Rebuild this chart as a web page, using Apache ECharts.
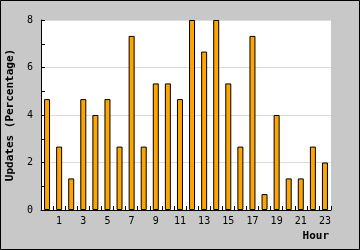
<!DOCTYPE html>
<html><head><meta charset="utf-8">
<script src="https://cdn.jsdelivr.net/npm/echarts@6/dist/echarts.min.js"></script>
<style>html,body{margin:0;padding:0;background:#c8c8c8}#c{width:360px;height:250px}</style>
</head><body><div id="c"></div>
<script>
const hours = ['0','1','2','3','4','5','6','7','8','9','10','11','12','13','14','15','16','17','18','19','20','21','22','23'];
const updates = [4.67,2.67,1.33,4.67,4.0,4.67,2.67,7.33,2.67,5.33,5.33,4.67,8.0,6.67,8.0,5.33,2.67,7.33,0.67,4.0,1.33,1.33,2.67,2.0];
const yTitle = 'Updates (Percentage)';
const xTitle = 'Hour';
const font = 'DejaVu Sans Mono';
const chart = echarts.init(document.getElementById('c'), null, {renderer:'canvas'});
chart.setOption({
  animation:false,
  backgroundColor:'#c8c8c8',
  grid:{left:41,right:29,top:20,bottom:40,show:true,backgroundColor:'#ffffff',borderWidth:0,containLabel:false,outerBoundsMode:'none'},
  graphic:[{type:'rect',z:100,silent:true,shape:{x:0.5,y:0.5,width:359,height:249},style:{fill:null,stroke:'#000',lineWidth:1}}],
  xAxis:{
    type:'category',data:hours,boundaryGap:true,
    axisLine:{lineStyle:{color:'#000',width:1}},
    axisTick:{show:true,inside:true,length:4,interval:0,lineStyle:{color:'#000'}},
    axisLabel:{interval:(i)=>i%2===1,margin:6,color:'#000',fontFamily:font,fontSize:10},
    splitLine:{show:false},
    name:xTitle,nameLocation:'end',nameGap:-2,
    nameTextStyle:{fontFamily:font,fontSize:11,fontWeight:'bold',color:'#000',align:'right',verticalAlign:'top',padding:[21,0,0,0]}
  },
  yAxis:{
    type:'value',min:0,max:8,interval:2,
    axisLine:{show:true,lineStyle:{color:'#000',width:1}},
    axisTick:{show:true,inside:true,length:4,lineStyle:{color:'#000'}},
    minorTick:{show:true,splitNumber:2,length:4,lineStyle:{color:'#000'}},
    axisLabel:{margin:8,color:'#000',fontFamily:font,fontSize:10},
    splitLine:{show:true,lineStyle:{color:'#dcdcdc',width:1}},
    name:yTitle,nameLocation:'middle',nameGap:25,nameRotate:90,
    nameTextStyle:{fontFamily:font,fontSize:11,fontWeight:'bold',color:'#000'}
  },
  series:[{type:'bar',data:updates,barWidth:6,itemStyle:{color:'#ffa500',borderColor:'#000',borderWidth:1}}]
});
</script></body></html>
